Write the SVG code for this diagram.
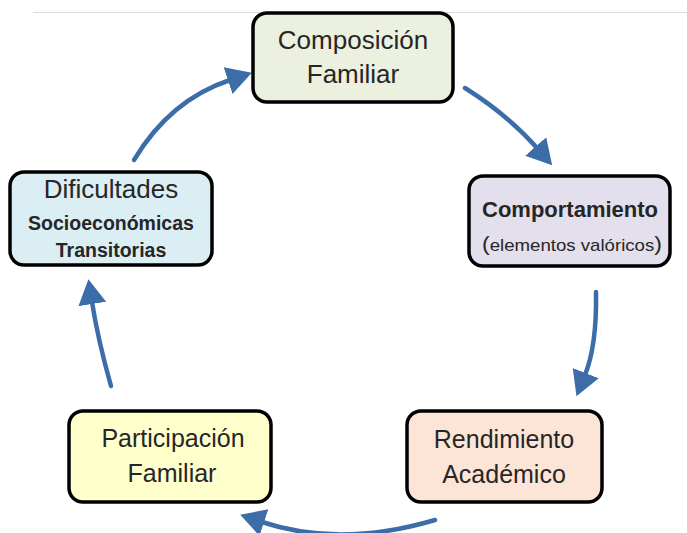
<svg xmlns="http://www.w3.org/2000/svg" width="687" height="533" viewBox="0 0 687 533">
<defs>
<marker id="ah" markerUnits="userSpaceOnUse" markerWidth="28" markerHeight="32" viewBox="0 -16 28 32" refX="2" refY="0" orient="auto">
<path d="M0,-14 L25,0 L0,14 z" fill="#3d6da8"/>
</marker>
<style>
.box{stroke:#000;stroke-width:3.5}
.t{font-family:"Liberation Sans",Arial,sans-serif;fill:#262626;text-anchor:middle}
.c{fill:none;stroke:#3d6da8;stroke-width:4.5;stroke-linecap:round;marker-end:url(#ah)}
</style>
</defs>
<rect width="687" height="533" fill="#fff"/>
<line x1="33" y1="12.5" x2="687" y2="12.5" stroke="#dcdcdc" stroke-width="1"/>
<g id="connectors">
<path class="c" d="M134,160 Q170,100 230,80"/>
<path class="c" d="M465,88 Q508,115 537,148"/>
<path class="c" d="M596,292 Q597,345 585,375"/>
<path class="c" d="M435,520 Q340,548 262,522"/>
<path class="c" d="M111,386 Q98,340 92,302"/>
</g>
<g id="composicion">
<rect class="box" x="253" y="13" width="200" height="89" rx="14" fill="#ebf1de"/>
<text class="t" x="353" y="49" font-size="26">Composición</text>
<text class="t" x="353" y="83" font-size="26">Familiar</text>
</g>
<g id="comportamiento">
<rect class="box" x="469" y="176" width="201" height="90" rx="14" fill="#e4dfec"/>
<text class="t" x="570" y="217" font-size="22" font-weight="bold">Comportamiento</text>
<text class="t" x="572" y="251" font-size="17" textLength="180" lengthAdjust="spacingAndGlyphs"><tspan font-size="21">(</tspan>elementos valóricos<tspan font-size="21">)</tspan></text>
</g>
<g id="dificultades">
<rect class="box" x="10" y="172" width="202" height="93" rx="14" fill="#dbeef4"/>
<text class="t" x="111" y="198" font-size="26">Dificultades</text>
<text class="t" x="111" y="230" font-size="19.5" font-weight="bold">Socioeconómicas</text>
<text class="t" x="111" y="257" font-size="19.5" font-weight="bold">Transitorias</text>
</g>
<g id="participacion">
<rect class="box" x="69" y="411" width="202" height="91" rx="14" fill="#ffffcc"/>
<text class="t" x="173" y="447" font-size="25">Participación</text>
<text class="t" x="172" y="482" font-size="25">Familiar</text>
</g>
<g id="rendimiento">
<rect class="box" x="407" y="411" width="195" height="91" rx="14" fill="#fce4d6"/>
<text class="t" x="504" y="448" font-size="25">Rendimiento</text>
<text class="t" x="504" y="483" font-size="25">Académico</text>
</g>
</svg>
